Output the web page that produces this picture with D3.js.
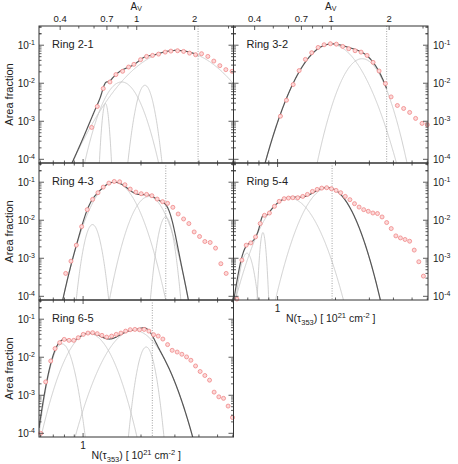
<!DOCTYPE html>
<html>
<head>
<meta charset="utf-8">
<script src="https://cdn.jsdelivr.net/npm/d3@7"></script>
<style>
body { margin: 0; background: #fff; }
text { font-family: "Liberation Sans", Arial, sans-serif; fill: #222; }
</style>
</head>
<body>
<svg id="chart" width="458" height="464"></svg>
<script>
// ring names, in panel order
var ringNames = ["Ring 2-1", "Ring 3-2", "Ring 4-3", "Ring 5-4", "Ring 6-5"];

// N(tau353) in 10^21 cm^-2 and area fraction
var nRing21 = [1.108,1.185,1.273,1.379,1.481,1.605,1.724,1.837,1.990,2.138,2.297,2.468,2.672,2.860,3.098,3.329,3.575,3.841,4.128,4.450,4.780,5.137,5.52,5.95];
var fRing21 = [6.9e-4,2.45e-3,7.26e-3,1.08e-2,1.69e-2,2.06e-2,2.67e-2,3.14e-2,4.17e-2,5.08e-2,5.40e-2,5.84e-2,6.59e-2,7.0e-2,7.16e-2,6.87e-2,6.2e-2,5.63e-2,5.98e-2,5.08e-2,3.83e-2,2.90e-2,2.28e-2,2.06e-2];

var nRing32 = [1.035,1.112,1.205,1.294,1.395,1.504,1.624,1.745,1.881,2.021,2.180,2.342,2.528,2.716,2.918,3.135,3.369,3.633,3.89,4.193,4.52,4.857,5.217,5.634,6.0];
var fRing32 = [1.36e-3,3.58e-3,9.23e-3,2.15e-2,4.24e-2,6.36e-2,8.74e-2,0.1028,0.1093,0.1067,0.0929,0.0809,0.0716,0.0659,0.054,0.0354,0.0210,9.8e-3,4.37e-3,2.6e-3,2.17e-3,1.71e-3,1.19e-3,8.8e-4,8.1e-4];

var nRing43 = [0.812,0.865,0.922,0.983,1.051,1.121,1.195,1.273,1.362,1.452,1.549,1.650,1.758,1.881,2.005,2.138,2.278,2.427,2.590,2.749,2.928,3.12,3.329,3.546,3.779,4.03,4.294,4.575,4.88,5.2,5.54];
var fRing43 = [4.0e-4,8.4e-4,2.21e-3,6.8e-3,1.9e-2,3.54e-2,5.3e-2,7.43e-2,9.46e-2,0.1047,0.1028,0.0858,0.0659,0.055,0.0499,0.0478,0.0442,0.036,0.0308,0.0278,0.0219,0.0146,0.0108,8.18e-3,4.93e-3,3.74e-3,2.76e-3,2.6e-3,1.85e-3,7.2e-4,4.0e-4];

var nRing54 = [0.614,0.652,0.687,0.726,0.768,0.812,0.855,0.907,0.963,1.019,1.082,1.139,1.199,1.273,1.351,1.429,1.517,1.605,1.696,1.8,1.905,2.014,2.128,2.248,2.376,2.51,2.652,2.802,2.96,3.128,3.305,3.491,3.689,3.896,4.118,4.35,4.596,4.857,5.131,5.42,5.727];
var fRing54 = [8.5e-5,8.95e-4,2.21e-3,2.54e-3,3.65e-3,8.18e-3,1.35e-2,1.55e-2,2.32e-2,3.14e-2,3.69e-2,3.83e-2,3.92e-2,3.92e-2,4.24e-2,4.78e-2,5.73e-2,6.47e-2,7.0e-2,7.16e-2,6.75e-2,6.09e-2,5.3e-2,4.24e-2,3.48e-2,2.73e-2,2.22e-2,1.9e-2,1.72e-2,1.55e-2,1.5e-2,1.22e-2,8.7e-3,6.05e-3,3.88e-3,3.43e-3,3.12e-3,2.81e-3,1.64e-3,8.1e-4,3.4e-4];

var nRing65 = [0.602,0.639,0.679,0.715,0.756,0.798,0.845,0.894,0.944,1.002,1.06,1.121,1.185,1.253,1.326,1.407,1.487,1.573,1.664,1.758,1.859,1.966,2.078,2.198,2.325,2.457,2.598,2.749,2.904,3.083,3.262,3.45,3.633,3.841,4.058,4.294,4.542,4.798,5.076,5.37,5.673,5.98];
var fRing65 = [1.0e-4,2.25e-3,7.98e-3,1.69e-2,2.42e-2,2.95e-2,2.78e-2,2.78e-2,3.27e-2,3.99e-2,4.32e-2,4.42e-2,4.17e-2,3.76e-2,3.39e-2,3.6e-2,3.99e-2,4.32e-2,4.87e-2,5.3e-2,5.4e-2,5.3e-2,5.4e-2,4.87e-2,3.92e-2,3.6e-2,3.01e-2,2.15e-2,1.52e-2,1.37e-2,1.2e-2,1.02e-2,8.33e-3,5.9e-3,4.22e-3,3.31e-3,2.5e-3,1.21e-3,9.1e-4,8.3e-4,5.2e-4,2.6e-4];

// fitted log-normal components: [centre N, peak fraction, width in dex]
var compRing21 = [[1.307,2.94e-3,0.0118],[1.586,1.08e-2,0.0614],[2.096,8.85e-3,0.029],[3.062,0.073,0.147]];
var compRing32 = [[1.89,0.106,0.09],[2.749,0.0442,0.0657]];
var compRing43 = [[1.119,7.7e-3,0.028],[1.452,0.10,0.0709],[2.198,0.042,0.058],[2.684,0.0122,0.025]];
var compRing54 = [[0.693,1.36e-3,0.0243],[0.839,4.75e-3,0.0106],[1.152,0.038,0.08],[1.826,0.071,0.074]];
var compRing65 = [[0.777,0.0225,0.036],[1.073,0.042,0.0705],[1.837,0.051,0.085],[2.128,0.0186,0.028]];

// dotted marker and upper limit of the drawn total fit
var dottedN = [3.96, 3.69, 2.69, 1.92, 2.29];
var fitMaxN = [3.96, 3.69, 6.05, 6.05, 6.05];

// axis ticks
var nTicks = [0.6,0.7,0.8,0.9,1,2,3,4,5,6];
var nLabels = [1];
var avTicks = [0.4,0.5,0.6,0.7,0.8,0.9,1,2,3];
var avLabels = [0.4,0.7,1,2];
var yDecades = [-4,-3,-2,-1];
var nPerAv = 1.9;

var nDomain = [0.59, 6.05];
var fDomain = [8e-5, 0.32];
var colX = [39, 233.5];
var rowY = [26, 163, 300];
var W = 194.5, H = 137;

var panels = [
  {name: ringNames[0], n: nRing21, f: fRing21, comps: compRing21, col: 0, row: 0},
  {name: ringNames[1], n: nRing32, f: fRing32, comps: compRing32, col: 1, row: 0},
  {name: ringNames[2], n: nRing43, f: fRing43, comps: compRing43, col: 0, row: 1},
  {name: ringNames[3], n: nRing54, f: fRing54, comps: compRing54, col: 1, row: 1},
  {name: ringNames[4], n: nRing65, f: fRing65, comps: compRing65, col: 0, row: 2}
];

var svg = d3.select("#chart");

function lognormal(c, n) {
  var d = Math.log10(n / c[0]);
  return c[1] * Math.exp(-d * d / (2 * c[2] * c[2]));
}

// sample grid for the smooth curves
var grid = d3.range(0, 801).map(function (i) {
  return nDomain[0] * Math.pow(nDomain[1] / nDomain[0], i / 800);
});

function sup(sel, base, exp, size) {
  sel.append("tspan").text(base);
  sel.append("tspan").attr("font-size", size).attr("dy", -4).text(exp);
}

panels.forEach(function (p, i) {
  var x0 = colX[p.col], y0 = rowY[p.row];
  var x = d3.scaleLog().domain(nDomain).range([x0, x0 + W]);
  var y = d3.scaleLog().domain(fDomain).range([y0 + H, y0]);
  var g = svg.append("g");

  var clipId = "clip" + i;
  svg.append("clipPath").attr("id", clipId)
    .append("rect").attr("x", x0).attr("y", y0).attr("width", W).attr("height", H);

  var line = d3.line()
    .x(function (d) { return x(d[0]); })
    .y(function (d) { return y(Math.max(d[1], 1e-7)); });

  var plot = g.append("g").attr("clip-path", "url(#" + clipId + ")");

  // components
  p.comps.forEach(function (c) {
    plot.append("path")
      .attr("d", line(grid.map(function (n) { return [n, lognormal(c, n)]; })))
      .attr("fill", "none").attr("stroke", "#c4c4c4").attr("stroke-width", 0.8);
  });

  // total fit
  var total = grid.filter(function (n) { return n <= fitMaxN[i]; }).map(function (n) {
    return [n, d3.sum(p.comps, function (c) { return lognormal(c, n); })];
  });
  plot.append("path").attr("d", line(total))
    .attr("fill", "none").attr("stroke", "#555").attr("stroke-width", 1.2);

  // dotted marker
  g.append("line")
    .attr("x1", x(dottedN[i])).attr("x2", x(dottedN[i]))
    .attr("y1", y0).attr("y2", y0 + H)
    .attr("stroke", "#999").attr("stroke-width", 0.9).attr("stroke-dasharray", "1,1.5");

  // data
  g.selectAll("circle.pt").data(p.n).join("circle")
    .attr("class", "pt")
    .attr("cx", function (d) { return x(d); })
    .attr("cy", function (d, k) { return y(p.f[k]); })
    .attr("r", 2)
    .attr("fill", "#fcd8d8").attr("stroke", "#f08888").attr("stroke-width", 0.8);

  // ticks, inward on all sides
  var ticks = g.append("g").attr("stroke", "#333").attr("stroke-width", 0.8);
  nTicks.forEach(function (t) {
    var len = nLabels.indexOf(t) >= 0 ? 4 : 2.5;
    ticks.append("line").attr("x1", x(t)).attr("x2", x(t)).attr("y1", y0 + H).attr("y2", y0 + H - len);
    if (p.row > 0) ticks.append("line").attr("x1", x(t)).attr("x2", x(t)).attr("y1", y0).attr("y2", y0 + len);
  });
  if (p.row === 0) {
    avTicks.forEach(function (t) {
      var len = avLabels.indexOf(t) >= 0 ? 4 : 2.5;
      var xx = x(t * nPerAv);
      ticks.append("line").attr("x1", xx).attr("x2", xx).attr("y1", y0).attr("y2", y0 + len);
    });
  }
  yDecades.forEach(function (e) {
    d3.range(1, 10).forEach(function (m) {
      var v = m * Math.pow(10, e);
      if (v < fDomain[0] || v > fDomain[1]) return;
      var len = m === 1 ? 5 : 2.5;
      ticks.append("line").attr("x1", x0).attr("x2", x0 + len).attr("y1", y(v)).attr("y2", y(v));
      ticks.append("line").attr("x1", x0 + W).attr("x2", x0 + W - len).attr("y1", y(v)).attr("y2", y(v));
    });
  });
  [0.2, 0.3].forEach(function (v) {
    ticks.append("line").attr("x1", x0).attr("x2", x0 + 2.5).attr("y1", y(v)).attr("y2", y(v));
    ticks.append("line").attr("x1", x0 + W).attr("x2", x0 + W - 2.5).attr("y1", y(v)).attr("y2", y(v));
  });

  // frame
  g.append("rect").attr("x", x0).attr("y", y0).attr("width", W).attr("height", H)
    .attr("fill", "none").attr("stroke", "#333").attr("stroke-width", 1);

  // y tick labels
  yDecades.forEach(function (e) {
    var t = g.append("text")
      .attr("y", y(Math.pow(10, e)) + 3.5)
      .attr("font-size", 10);
    if (p.col === 0) t.attr("x", x0 - 4).attr("text-anchor", "end");
    else t.attr("x", x0 + W + 5).attr("text-anchor", "start");
    sup(t, "10", String(e), 7);
  });

  // ring label
  g.append("text").attr("x", x0 + 13).attr("y", y0 + 22).attr("font-size", 11).text(p.name);

  // y title on the left column
  if (p.col === 0) {
    g.append("text")
      .attr("transform", "translate(13," + (y0 + H / 2) + ") rotate(-90)")
      .attr("text-anchor", "middle").attr("font-size", 11)
      .text("Area fraction");
  }

  // top A_V axis
  if (p.row === 0) {
    avLabels.forEach(function (t) {
      g.append("text").attr("x", x(t * nPerAv)).attr("y", 21.5)
        .attr("text-anchor", "middle").attr("font-size", 9.5).text(t);
    });
    var av = g.append("text").attr("x", x0 + W / 2).attr("y", 9.5)
      .attr("text-anchor", "middle").attr("font-size", 10);
    av.append("tspan").text("A");
    av.append("tspan").attr("font-size", 7).attr("dy", 1.5).text("V");
  }

  // bottom N axis on the last panel of each column
  var last = (p.col === 0 && p.row === 2) || (p.col === 1 && p.row === 1);
  if (last) {
    nLabels.forEach(function (t) {
      g.append("text").attr("x", x(t)).attr("y", y0 + H + 12)
        .attr("text-anchor", "middle").attr("font-size", 10).text(t);
    });
    var tt = g.append("text").attr("x", x0 + W / 2).attr("y", y0 + H + 22)
      .attr("text-anchor", "middle").attr("font-size", 10.5);
    tt.append("tspan").text("N(\u03c4");
    tt.append("tspan").attr("font-size", 7.5).attr("dy", 2.5).text("353");
    tt.append("tspan").attr("dy", -2.5).text(") [ 10");
    tt.append("tspan").attr("font-size", 7.5).attr("dy", -4).text("21");
    tt.append("tspan").attr("dy", 4).text(" cm");
    tt.append("tspan").attr("font-size", 7.5).attr("dy", -4).text("-2");
    tt.append("tspan").attr("dy", 4).text(" ]");
  }
});
</script>
</body>
</html>
